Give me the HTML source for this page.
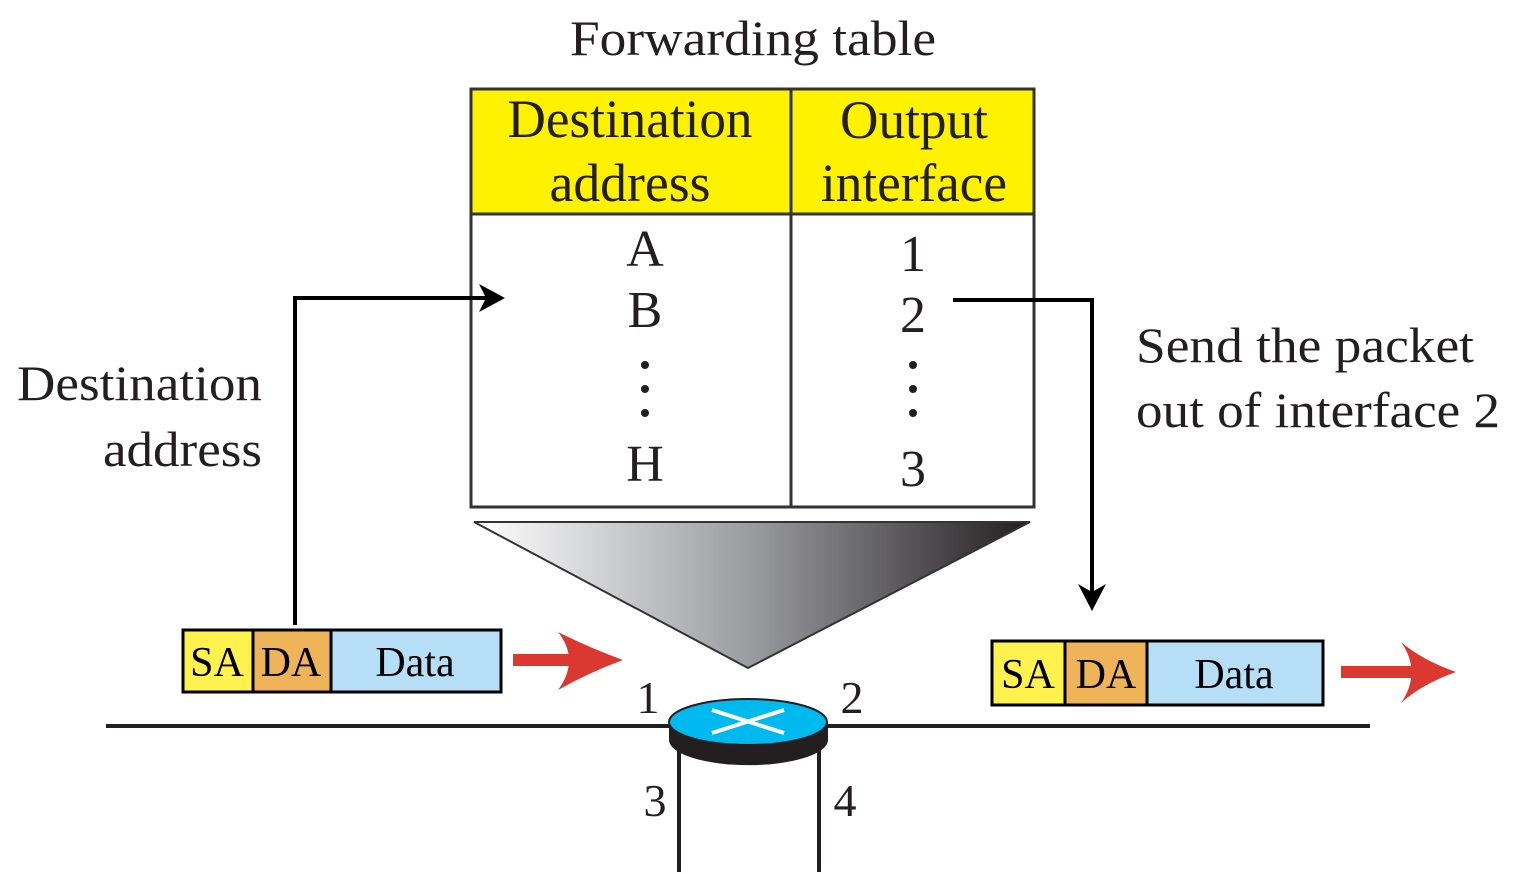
<!DOCTYPE html>
<html><head><meta charset="utf-8"><style>html,body{margin:0;padding:0;background:#fff;}svg{display:block}</style></head>
<body>
<svg width="1516" height="874" viewBox="0 0 1516 874" xmlns="http://www.w3.org/2000/svg" font-family="Liberation Serif, serif" fill="#231f20">
<defs>
<linearGradient id="g" x1="0" x2="1" y1="0" y2="0">
<stop offset="0" stop-color="#ffffff"/><stop offset="0.5" stop-color="#9a9b9f"/><stop offset="1" stop-color="#231f20"/>
</linearGradient>
</defs>
<text x="753" y="55" font-size="50" text-anchor="middle" textLength="366" lengthAdjust="spacingAndGlyphs">Forwarding table</text>
<!-- table -->
<rect x="471" y="89" width="320" height="125" fill="#fff200"/>
<rect x="791" y="89" width="243" height="125" fill="#fff200"/>
<rect x="471" y="89" width="563" height="418" fill="none" stroke="#333" stroke-width="3"/>
<line x1="471" y1="214" x2="1034" y2="214" stroke="#333" stroke-width="3"/>
<line x1="791" y1="89" x2="791" y2="507" stroke="#333" stroke-width="3"/>
<text x="630" y="137" font-size="54" text-anchor="middle" textLength="245" lengthAdjust="spacingAndGlyphs">Destination</text>
<text x="630" y="201" font-size="54" text-anchor="middle" textLength="161" lengthAdjust="spacingAndGlyphs">address</text>
<text x="914" y="138" font-size="54" text-anchor="middle" textLength="148" lengthAdjust="spacingAndGlyphs">Output</text>
<text x="914" y="201" font-size="54" text-anchor="middle" textLength="186" lengthAdjust="spacingAndGlyphs">interface</text>
<g font-size="52" text-anchor="middle">
<text x="645" y="266">A</text><text x="645" y="327">B</text><text x="645" y="481">H</text>
<text x="913" y="271">1</text><text x="913" y="332">2</text><text x="913" y="486">3</text>
</g>
<g fill="#231f20">
<circle cx="645" cy="365" r="4"/><circle cx="645" cy="389" r="4"/><circle cx="645" cy="413" r="4"/>
<circle cx="913" cy="365" r="4"/><circle cx="913" cy="389" r="4"/><circle cx="913" cy="413" r="4"/>
</g>
<!-- side texts -->
<text x="262" y="400" font-size="50" text-anchor="end" textLength="245" lengthAdjust="spacingAndGlyphs">Destination</text>
<text x="262" y="466" font-size="50" text-anchor="end" textLength="159" lengthAdjust="spacingAndGlyphs">address</text>
<text x="1136" y="362" font-size="50" textLength="338" lengthAdjust="spacingAndGlyphs">Send the packet</text>
<text x="1136" y="427" font-size="50" textLength="364" lengthAdjust="spacingAndGlyphs">out of interface 2</text>
<!-- triangle -->
<polygon points="474,522 1030,522 748,668" fill="url(#g)" stroke="#333" stroke-width="2"/>
<!-- arrows black -->
<polyline points="295,625 295,298 490,298" fill="none" stroke="#000" stroke-width="4"/>
<path d="M505,298 L479,284 L486,298 L479,312 Z" fill="#000"/>
<polyline points="953,300 1092,300 1092,596" fill="none" stroke="#000" stroke-width="4"/>
<path d="M1092,611 L1078,584 L1092,592 L1106,584 Z" fill="#000"/>
<!-- network line -->
<line x1="106" y1="726" x2="1370" y2="726" stroke="#231f20" stroke-width="4"/>
<line x1="679" y1="740" x2="679" y2="872" stroke="#231f20" stroke-width="4"/>
<line x1="819" y1="740" x2="819" y2="872" stroke="#231f20" stroke-width="4"/>
<!-- router -->
<path d="M669,722 L669,740 A79,25 0 0 0 828,740 L828,722 Z" fill="#231f20"/>
<ellipse cx="748" cy="722" rx="79" ry="23" fill="#00b9ef" stroke="#231f20" stroke-width="2"/>
<line x1="712" y1="710" x2="784" y2="733" stroke="#fff" stroke-width="4"/>
<line x1="712" y1="733" x2="784" y2="710" stroke="#fff" stroke-width="4"/>
<g font-size="46" text-anchor="middle">
<text x="648" y="713">1</text><text x="852" y="713">2</text>
<text x="655" y="816">3</text><text x="845" y="816">4</text>
</g>
<!-- left packet -->
<rect x="183" y="630" width="70" height="62" fill="#fff24f"/>
<rect x="253" y="630" width="78" height="62" fill="#efb35a"/>
<rect x="331" y="630" width="170" height="62" fill="#b6def6"/>
<rect x="183" y="630" width="318" height="62" fill="none" stroke="#000" stroke-width="3"/>
<line x1="253" y1="630" x2="253" y2="692" stroke="#000" stroke-width="3"/>
<line x1="331" y1="630" x2="331" y2="692" stroke="#000" stroke-width="3"/>
<g font-size="42" fill="#000" text-anchor="middle">
<text x="217" y="676">SA</text><text x="291" y="676">DA</text><text x="415" y="676">Data</text>
</g>
<!-- right packet -->
<rect x="992" y="641" width="73" height="64" fill="#fff24f"/>
<rect x="1065" y="641" width="82" height="64" fill="#efb35a"/>
<rect x="1147" y="641" width="176" height="64" fill="#b6def6"/>
<rect x="992" y="641" width="331" height="64" fill="none" stroke="#000" stroke-width="3"/>
<line x1="1065" y1="641" x2="1065" y2="705" stroke="#000" stroke-width="3"/>
<line x1="1147" y1="641" x2="1147" y2="705" stroke="#000" stroke-width="3"/>
<g font-size="42" fill="#000" text-anchor="middle">
<text x="1028" y="688">SA</text><text x="1106" y="688">DA</text><text x="1234" y="688">Data</text>
</g>
<!-- red arrows -->
<rect x="513" y="654" width="70" height="12" fill="#dc3832"/>
<path d="M623,660 Q590,648 558,632 Q580,660 558,690 Q590,672 623,660 Z" fill="#dc3832"/>
<rect x="1341" y="666" width="75" height="12" fill="#dc3832"/>
<path d="M1456,672 Q1422,660 1401,642 Q1422,672 1401,703 Q1422,684 1456,672 Z" fill="#dc3832"/>
</svg>
</body></html>
